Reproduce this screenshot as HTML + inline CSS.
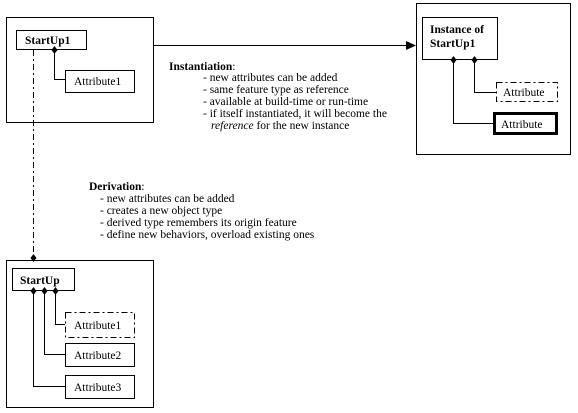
<!DOCTYPE html>
<html><head><style>body{margin:0;background:#fff}svg{display:block}text{font-family:"Liberation Serif",serif;font-size:11.5px;fill:#000}.b{font-weight:bold}</style></head><body>
<svg width="578" height="413" viewBox="0 0 578 413" xmlns="http://www.w3.org/2000/svg">
<g fill="none" stroke="#000" stroke-width="1">
<rect x="6.5" y="17.5" width="147" height="105"/>
<rect x="16.5" y="30.5" width="70" height="19"/>
<rect x="65.5" y="70.5" width="69" height="22"/>
<path d="M54.5 50V79.5H65"/>
<path d="M33.5 50V258" stroke-dasharray="6,3,2,3"/>
<path d="M153 45.5H408"/>
<rect x="416.5" y="3.5" width="154" height="151"/>
<rect x="422.5" y="17.5" width="75" height="42"/>
<rect x="496.5" y="82.5" width="61" height="19" stroke-dasharray="6,3,2,3"/>
<rect x="494.5" y="113.5" width="62" height="20" stroke-width="3"/>
<path d="M474.5 60V92.5H496"/>
<path d="M453.5 60V123.5H493"/>
<rect x="6.5" y="260.5" width="147" height="147"/>
<rect x="12.5" y="268.5" width="62" height="22"/>
<rect x="65.5" y="312.5" width="69" height="25" stroke-dasharray="6,3,2,3"/>
<rect x="65.5" y="343.5" width="69" height="23"/>
<rect x="65.5" y="375.5" width="69" height="23"/>
<path d="M55.5 291V324.5H65M44.5 291V354.5H65M33.5 291V386.5H65"/>
</g>
<g fill="#000">
<path d="M416 45.5L406 41V50Z"/>
<path d="M54.5 46l3 4-3 4-3-4z"/>
<path d="M453.5 56l3 4-3 4-3-4z"/>
<path d="M474.5 56l3 4-3 4-3-4z"/>
<path d="M33.5 254l3 4-3 4-3-4z"/>
<path d="M33.5 287l3 4-3 4-3-4z"/>
<path d="M44.5 287l3 4-3 4-3-4z"/>
<path d="M55.5 287l3 4-3 4-3-4z"/>
</g>
<text x="25" y="44" class="b">StartUp1</text>
<text x="74" y="85">Attribute1</text>
<text x="430" y="33" class="b">Instance of</text>
<text x="430" y="47" class="b">StartUp1</text>
<text x="503" y="96">Attribute</text>
<text x="501" y="128">Attribute</text>
<text x="20" y="284" class="b">StartUp</text>
<text x="74" y="329">Attribute1</text>
<text x="74" y="359">Attribute2</text>
<text x="74" y="391">Attribute3</text>
<text x="169" y="70"><tspan class="b">Instantiation</tspan>:</text>
<text x="203" y="81">-  new attributes can be added</text>
<text x="203" y="93">-  same feature type as reference</text>
<text x="203" y="105">-  available at build-time or run-time</text>
<text x="203" y="117">-  if itself instantiated, it will become the</text>
<text x="211" y="129"><tspan font-style="italic">reference</tspan> for the new instance</text>
<text x="89" y="190"><tspan class="b">Derivation</tspan>:</text>
<text x="100" y="202">-  new attributes can be added</text>
<text x="100" y="214">-  creates a new object type</text>
<text x="100" y="226">-  derived type remembers its origin feature</text>
<text x="100" y="238">-  define new behaviors, overload existing ones</text>
</svg>
</body></html>
